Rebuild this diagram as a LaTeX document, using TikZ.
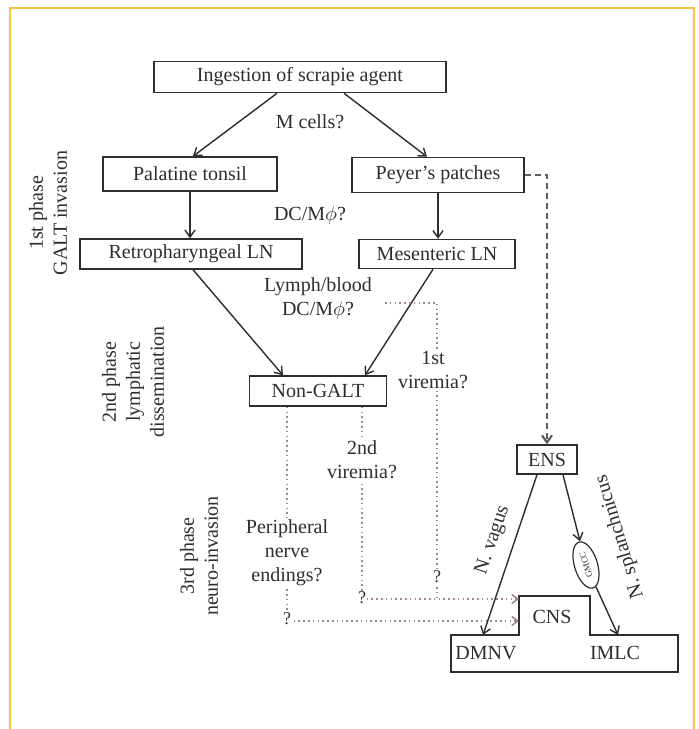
\documentclass[tikz,border=0pt]{standalone}
\usepackage{fontspec}
\setmainfont{Liberation Serif}
\usetikzlibrary{arrows.meta,shapes.geometric}
\definecolor{frameY}{HTML}{F6C244}
\definecolor{ink}{HTML}{2E2E2E}
\definecolor{dotc}{HTML}{9E8888}
\definecolor{dashc}{HTML}{5E5E5E}
\begin{document}
\begin{tikzpicture}[x=0.5pt,y=-0.5pt,
  box/.style={draw=ink, line width=0.75pt, inner sep=0pt, font=\fontsize{10}{12}\selectfont, text=ink},
  lbl/.style={font=\fontsize{10}{12}\selectfont, text=ink, align=center, inner sep=1pt},
  arr/.style={draw=ink, line width=0.7pt, -{Straight Barb[length=3.5pt,width=5pt]}},
  dotl/.style={draw=dotc, line width=0.75pt, dash pattern=on 0.8pt off 1.6pt},
  dasharr/.style={draw=dashc, line width=1.1pt, dash pattern=on 3pt off 2pt, -{Straight Barb[length=3.5pt,width=5pt]}},
  qm/.style={font=\fontsize{9}{10}\selectfont, text=ink, fill=white, inner sep=0.5pt}
]
\useasboundingbox (0,0) rectangle (699,729);
\fill[white] (0,0) rectangle (699,729);
% frame
\draw[frameY, line width=1.2pt] (10,729) -- (10,8) -- (694,8) -- (694,729);

% boxes
\node[box, minimum width=146pt, minimum height=15.5pt] (ingest) at (300,77) {Ingestion of scrapie agent};
\node[box, minimum width=87pt, minimum height=17pt] (palatine) at (190,174) {Palatine tonsil};
\node[box, minimum width=86pt, minimum height=17.5pt] (peyer) at (438,175) {Peyer's patches};
\node[box, minimum width=111pt, minimum height=15pt] (retro) at (191,254) {Retropharyngeal LN};
\node[box, minimum width=78pt, minimum height=14.5pt] (mesent) at (437,254) {Mesenteric LN};
\node[box, minimum width=68.5pt, minimum height=15pt] (nongalt) at (318,391) {Non-GALT};
\node[box, minimum width=30pt, minimum height=14.5pt] (ens) at (547,459.5) {ENS};

% CNS outline
\draw[ink, line width=0.75pt] (451,635) -- (519,635) -- (519,596) -- (590,596) -- (590,635) -- (678,635) -- (678,672) -- (451,672) -- cycle;
\coordinate (dmnvin) at (483,635);
\coordinate (imlcin) at (618,635);
\coordinate (cnsin1) at (519,599);
\coordinate (cnsin2) at (519,621);
\node[lbl] (cns) at (552,617) {CNS};
\node[lbl] (dmnv) at (486,653) {DMNV};
\node[lbl] (imlc) at (615,653) {IMLC};

% solid arrows
\draw[arr] ([xshift=-11.5pt]ingest.south) -- ([xshift=1.5pt]palatine.north);
\draw[arr] ([xshift=22pt]ingest.south) -- ([xshift=-5.5pt]peyer.north);
\draw[arr] (palatine.south) -- (palatine.south |- retro.north);
\draw[arr] (peyer.south) -- (peyer.south |- mesent.north);
\draw[arr] ([xshift=1pt]retro.south) -- ([xshift=-17.5pt]nongalt.north);
\draw[arr] ([xshift=-2pt]mesent.south) -- ([xshift=23.5pt]nongalt.north);

% dashed Peyer -> ENS
\draw[dasharr] (peyer.east) -| (ens.north);

% dotted paths
\coordinate (v1) at (385,303);
\coordinate (v1end) at (437,599);
\draw[dotl] (v1) -| (v1end);
\draw[dotl, -{Straight Barb[length=3pt,width=4.5pt]}] ([xshift=22pt]nongalt.south) |- (cnsin1);
\draw[dotl, -{Straight Barb[length=3pt,width=4.5pt]}] ([xshift=-15.5pt]nongalt.south) |- (cnsin2);

% labels
\node[lbl] (mcells) at (310,122) {M cells?};
\node[lbl] (dcm1) at (310,215) {DC/M$\phi$?};
\node[lbl] (lymph) at (318,298) {Lymph/blood\\DC/M$\phi$?};
\node[lbl, fill=white] (vir1) at (433,370) {1st\\viremia?};
\node[lbl, fill=white] (vir2) at (362,460) {2nd\\viremia?};
\node[lbl, fill=white] (periph) at (287,553) {Peripheral\\nerve\\endings?};
\node[qm] (q1) at (437,577) {?};
\node[qm] (q2) at (362,598) {?};
\node[qm] (q3) at (287,619) {?};

% phase labels
\node[lbl, rotate=90] (ph1) at (48,213) {1st phase\\GALT invasion};
\node[lbl, rotate=90] (ph2) at (133,382) {2nd phase\\lymphatic\\dissemination};
\node[lbl, rotate=90] (ph3) at (199,556) {3rd phase\\neuro-invasion};

% ENS branches
\node[ellipse, draw=ink, line width=0.6pt, minimum width=24pt, minimum height=11.5pt, inner sep=0pt, rotate=107, text=ink, font=\fontsize{4.5}{5}\selectfont] (gmcc) at (586,565) {GMCC};
\draw[arr] ([xshift=-5pt]ens.south) -- (dmnvin);
\draw[arr] ([xshift=8pt]ens.south) -- (gmcc);
\draw[arr] (gmcc) -- (imlcin);
\node[lbl, rotate=71] (vagus) at (493,540) {N. vagus};
\node[lbl, rotate=107] (splanch) at (620,537) {N. splanchnicus};
\end{tikzpicture}
\end{document}
